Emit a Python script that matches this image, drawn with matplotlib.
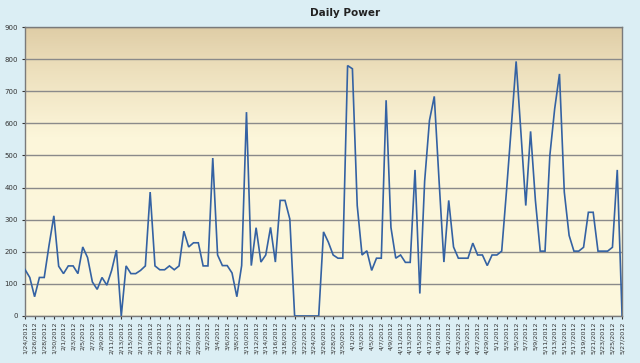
import numpy as np
import pandas as pd
import matplotlib
matplotlib.use('Agg')
import matplotlib.pyplot as plt
from matplotlib.colors import LinearSegmentedColormap

# daily values, 1/24/2012 .. 5/27/2012
dates = pd.date_range('2012-01-24', '2012-05-27', freq='D')
date_labels = [f"{d.month}/{d.day}/{d.year}" for d in dates]

power_jan_feb = [145, 120, 60, 120, 120, 220, 312, 155,
                 132, 156, 156, 132, 215, 182, 106, 83, 120, 96, 142, 205,
                 0, 156, 132, 132, 142, 156, 386, 156, 144, 144, 156, 144,
                 156, 264, 215, 228, 228]
power_mar = [156, 156, 492, 190, 157, 157, 134, 60, 157, 635, 157, 275,
             168, 190, 276, 168, 360, 360, 302, 0, 0, 0, 0, 0, 0, 262,
             230, 190, 180, 180, 780]
power_apr = [770, 344, 190, 203, 142, 180, 180, 672, 276, 180, 190, 167,
             167, 455, 70, 420, 609, 684, 420, 168, 360, 215, 180, 180,
             180, 227, 190, 190, 157, 190]
power_may = [190, 202, 390, 590, 793, 570, 344, 575, 360, 202, 202, 500,
             645, 754, 386, 251, 202, 202, 214, 323, 323, 202, 202, 202,
             214, 455, 0]

power = power_jan_feb + power_mar + power_apr + power_may

bg_blue = '#dbeef4'
line_blue = '#3462a3'
grid_grey = '#8a8a8a'

fig = plt.figure(figsize=(6.4, 3.63), dpi=100, facecolor=bg_blue)
ax = fig.add_axes([0.039, 0.1295, 0.933, 0.796])

# plot-area gradient: tan at top fading to cream
cmap = LinearSegmentedColormap.from_list(
    'plotbg', [(0.0, '#fdf8dd'), (0.62, '#fcf6da'), (0.85, '#ede0bd'), (1.0, '#dfcda6')])
grad = np.linspace(0, 1, 256).reshape(-1, 1)
ax.imshow(grad, cmap=cmap, aspect='auto', extent=[0, 1, 0, 1],
          transform=ax.transAxes, origin='lower', zorder=0)

x = np.arange(len(power))
ax.plot(x, power, color=line_blue, linewidth=1.2, zorder=3, solid_joinstyle='miter')

ax.set_xlim(0, len(power) - 1)
ax.set_ylim(0, 900)
ax.set_yticks(range(0, 901, 100))
ax.yaxis.grid(True, color=grid_grey, linewidth=1.0, zorder=1)
ax.set_axisbelow(True)

ax.set_xticks(x[::2])
ax.set_xticklabels(date_labels[::2], rotation=90, fontsize=4.6, color='#333333')
ax.tick_params(axis='y', labelsize=5, colors='#333333', length=2, pad=3)
ax.tick_params(axis='x', length=2, pad=2, colors='#333333')

for side in ['left', 'bottom', 'top', 'right']:
    ax.spines[side].set_color('#7a7a7a')
    ax.spines[side].set_linewidth(1.0)

fig.text(345 / 640, 1 - 13 / 363, 'Daily Power', ha='center', va='center',
         fontsize=7.5, fontweight='bold', color='#222222')

plt.savefig('out.png', dpi=100, facecolor=bg_blue)
